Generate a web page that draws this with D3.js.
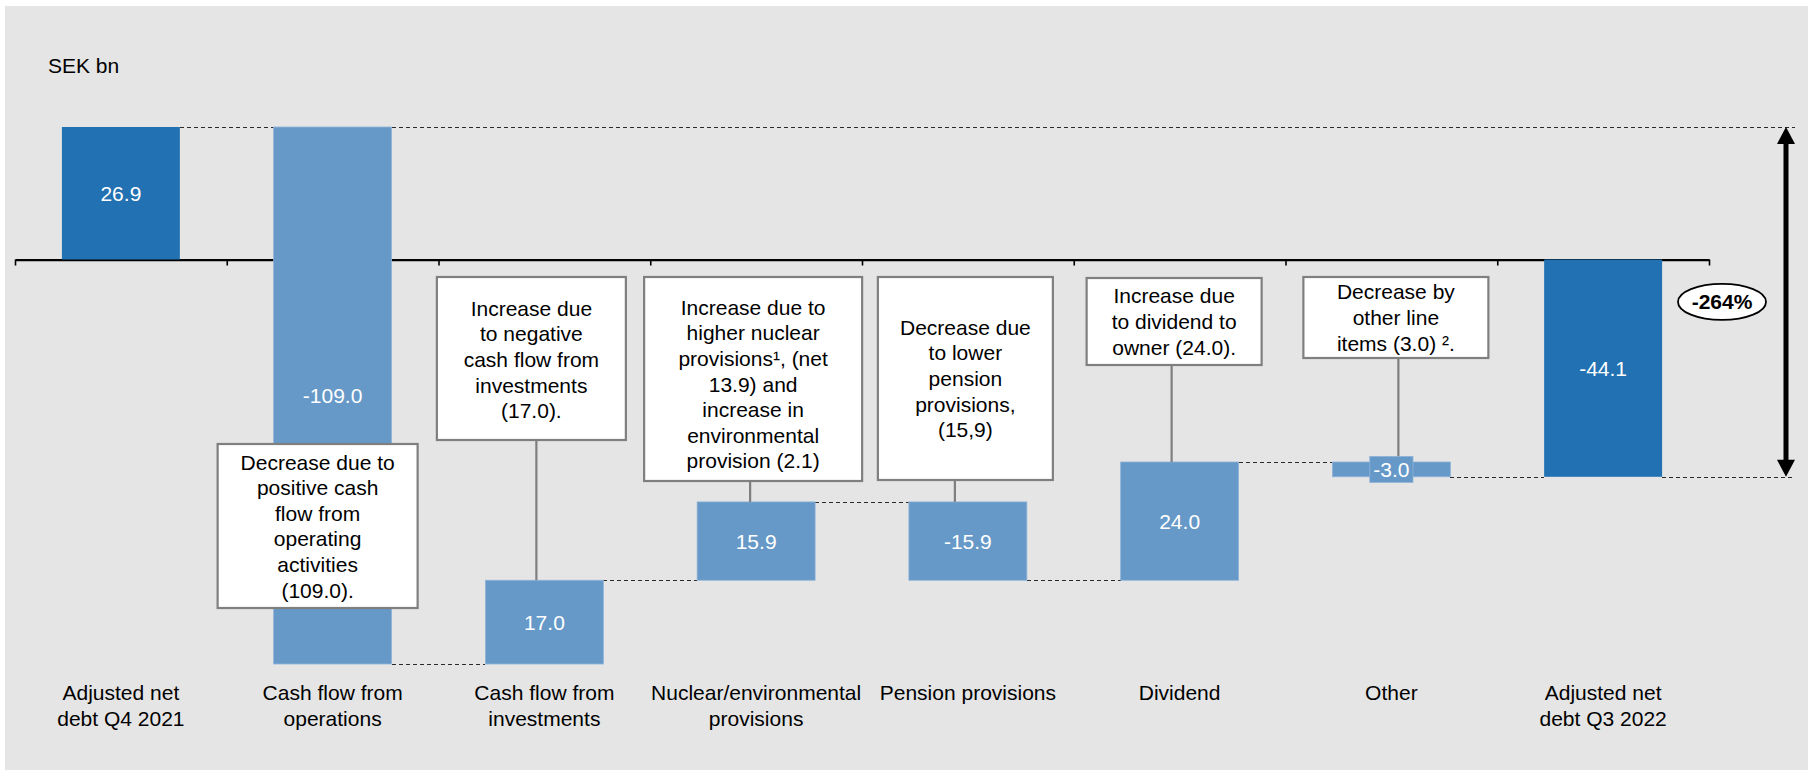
<!DOCTYPE html>
<html>
<head>
<meta charset="utf-8">
<script src="https://cdn.jsdelivr.net/npm/d3@7"></script>
<style>
  html, body { margin: 0; padding: 0; background: #ffffff; }
  svg { display: block; }
</style>
</head>
<body>
<svg id="chart" width="1808" height="770"></svg>
<script>
// ---------------- DATA ----------------
const unitLabel = "SEK bn";
const categories = [
  "Adjusted net debt Q4 2021",
  "Cash flow from operations",
  "Cash flow from investments",
  "Nuclear/environmental provisions",
  "Pension provisions",
  "Dividend",
  "Other",
  "Adjusted net debt Q3 2022"
];
const categoryLines = [
  ["Adjusted net", "debt Q4 2021"],
  ["Cash flow from", "operations"],
  ["Cash flow from", "investments"],
  ["Nuclear/environmental", "provisions"],
  ["Pension provisions"],
  ["Dividend"],
  ["Other"],
  ["Adjusted net", "debt Q3 2022"]
];
const values = [26.9, -109.0, 17.0, 15.9, -15.9, 24.0, -3.0, -44.1];
const barKinds = ["total", "delta", "delta", "delta", "delta", "delta", "delta", "total"];
const valueLabels = ["26.9", "-109.0", "17.0", "15.9", "-15.9", "24.0", "-3.0", "-44.1"];
const noteLines = [
  null,
  ["Decrease due to", "positive cash", "flow from", "operating", "activities", "(109.0)."],
  ["Increase due", "to negative", "cash flow from", "investments", "(17.0)."],
  ["Increase due to", "higher nuclear", "provisions\u00B9, (net", "13.9) and", "increase in", "environmental", "provision (2.1)"],
  ["Decrease due", "to lower", "pension", "provisions,", "(15,9)"],
  ["Increase due", "to dividend to", "owner (24.0)."],
  ["Decrease by", "other line", "items (3.0) \u00B2."],
  null
];
const changeLabel = "-264%";

// ---------------- LAYOUT / STYLE ----------------
const W = 1808, H = 770;
const FONT = "'Liberation Sans', Arial, Helvetica, sans-serif";
const DARK = "#2271B3", LIGHT = "#6699C8", BG = "#E5E5E5";
const BOX_STROKE = "#7F7F7F";
const FS = 21, LH = 25.6;

// callout geometry (offset of box centre from band centre, width, top, bottom, connector offset)
const noteLayout = [
  null,
  { dx: -15, w: 200, top: 444, bottom: 608, cx: null, tdy: 0 },
  { dx: -13, w: 189, top: 277, bottom: 440, cx: -8, tdy: 1 },
  { dx: -3, w: 218, top: 277, bottom: 481, cx: -6, tdy: 5 },
  { dx: -2.5, w: 175, top: 277, bottom: 480, cx: -13, tdy: 0 },
  { dx: -5.5, w: 175, top: 278, bottom: 365, cx: -8, tdy: 0 },
  { dx: 4.5, w: 185, top: 277, bottom: 358, cx: 7, tdy: 0 },
  null
];

const svg = d3.select("#chart");
svg.append("rect").attr("x", 5).attr("y", 6).attr("width", W - 5).attr("height", H - 6).attr("fill", BG);

// waterfall steps
let level = 0;
const steps = values.map((v, i) => {
  if (barKinds[i] === "total") { level = v; return { start: 0, end: v }; }
  const s = level; level = +(level + v).toFixed(4); return { start: s, end: level };
});
const allLevels = steps.flatMap(d => [d.start, d.end]);

const x = d3.scaleBand().domain(categories).range([15, 1709]).paddingInner(0.443).paddingOuter(0.2215);
const y = d3.scaleLinear().domain([d3.min(allLevels), d3.max(allLevels)]).range([664, 127]);
const bw = x.bandwidth();
const cx = c => x(c) + bw / 2;
const crisp = v => Math.round(v) + 0.5;

const arrowX = 1786, guideEnd = 1795;

// ---------- dashed guides ----------
const dash = svg.append("g").attr("stroke", "#2a2a2a").attr("stroke-width", 1).attr("stroke-dasharray", "4,3")
  .attr("fill", "none").attr("shape-rendering", "crispEdges");
for (let i = 0; i < categories.length - 1; i++) {
  const lv = steps[i].end;
  dash.append("line")
    .attr("x1", x(categories[i]) + bw).attr("x2", x(categories[i + 1]))
    .attr("y1", crisp(y(lv))).attr("y2", crisp(y(lv)));
}
// long guides to the arrow
dash.append("line").attr("x1", x(categories[1]) + bw).attr("x2", guideEnd)
  .attr("y1", crisp(y(steps[0].end))).attr("y2", crisp(y(steps[0].end)));
const last = categories.length - 1;
dash.append("line").attr("x1", x(categories[last]) + bw).attr("x2", guideEnd)
  .attr("y1", crisp(y(steps[last].end))).attr("y2", crisp(y(steps[last].end)));

// ---------- axis ----------
const xi = d3.scaleLinear().domain([0, categories.length]).range(x.range());
const axis = svg.append("g").attr("transform", `translate(0,${y(0)})`)
  .call(d3.axisBottom(xi).tickValues(d3.range(0, categories.length + 1)).tickSize(6).tickSizeOuter(0).tickFormat(""));
axis.select(".domain").attr("stroke", "#000").attr("stroke-width", 2.2);
axis.selectAll(".tick line").attr("stroke", "#000").attr("stroke-width", 1.6);

// ---------- bars ----------
svg.append("g").selectAll("rect").data(categories).join("rect")
  .attr("x", c => x(c))
  .attr("y", (c, i) => y(Math.max(steps[i].start, steps[i].end)))
  .attr("width", bw)
  .attr("height", (c, i) => Math.abs(y(steps[i].start) - y(steps[i].end)))
  .attr("fill", (c, i) => barKinds[i] === "total" ? DARK : LIGHT)
  .attr("stroke", (c, i) => barKinds[i] === "total" ? "none" : "#8FB3D8")
  .attr("stroke-width", 0.8);

// ---------- callout connectors & boxes ----------
const notes = svg.append("g");
categories.forEach((c, i) => {
  const lines = noteLines[i], L = noteLayout[i];
  if (!lines) return;
  const bc = cx(c) + L.dx;
  if (L.cx !== null) {
    notes.append("line")
      .attr("x1", cx(c) + L.cx).attr("x2", cx(c) + L.cx)
      .attr("y1", L.bottom).attr("y2", y(Math.max(steps[i].start, steps[i].end)))
      .attr("stroke", BOX_STROKE).attr("stroke-width", 2.2);
  }
  notes.append("rect")
    .attr("x", bc - L.w / 2).attr("y", L.top).attr("width", L.w).attr("height", L.bottom - L.top)
    .attr("fill", "#fff").attr("stroke", BOX_STROKE).attr("stroke-width", 2.2);
  const mid = (L.top + L.bottom) / 2 + L.tdy;
  const t = notes.append("text").attr("text-anchor", "middle").attr("font-family", FONT)
    .attr("font-size", FS).attr("fill", "#000");
  lines.forEach((ln, k) => {
    t.append("tspan").attr("x", bc).attr("y", mid + (k - (lines.length - 1) / 2) * LH + 7.5).text(ln);
  });
});

// ---------- value labels ----------
const vl = svg.append("g").attr("font-family", FONT).attr("font-size", FS).attr("text-anchor", "middle");
categories.forEach((c, i) => {
  const y1 = y(steps[i].start), y2 = y(steps[i].end);
  const mid = (y1 + y2) / 2;
  const h = Math.abs(y1 - y2);
  if (h < 30) {
    const tw = valueLabels[i].length * 10.8;
    vl.append("rect").attr("x", cx(c) - tw / 2).attr("y", mid - 13).attr("width", tw).attr("height", 26)
      .attr("fill", barKinds[i] === "total" ? DARK : LIGHT).attr("stroke", "#8FB3D8").attr("stroke-width", 0.8);
  }
  vl.append("text").attr("x", cx(c)).attr("y", mid + 7.5).attr("fill", "#fff").text(valueLabels[i]);
});

// ---------- category labels ----------
const cl = svg.append("g").attr("font-family", FONT).attr("font-size", FS).attr("text-anchor", "middle").attr("fill", "#000");
categories.forEach((c, i) => {
  const t = cl.append("text");
  categoryLines[i].forEach((ln, k) => {
    t.append("tspan").attr("x", cx(c)).attr("y", 700 + k * 26).text(ln);
  });
});

// ---------- unit label ----------
svg.append("text").attr("x", 48).attr("y", 73).attr("font-family", FONT).attr("font-size", FS)
  .attr("fill", "#000").text(unitLabel);

// ---------- change arrow ----------
const yTop = y(steps[0].end), yBot = y(steps[last].end);
const ah = 17, aw = 9;
svg.append("line").attr("x1", arrowX).attr("x2", arrowX).attr("y1", yTop + ah - 1).attr("y2", yBot - ah + 1)
  .attr("stroke", "#000").attr("stroke-width", 5);
svg.append("path").attr("fill", "#000")
  .attr("d", `M${arrowX},${yTop}L${arrowX - aw},${yTop + ah}L${arrowX + aw},${yTop + ah}Z`);
svg.append("path").attr("fill", "#000")
  .attr("d", `M${arrowX},${yBot}L${arrowX - aw},${yBot - ah}L${arrowX + aw},${yBot - ah}Z`);

const ovY = (yTop + yBot) / 2, ovX = arrowX - 64;
svg.append("ellipse").attr("cx", ovX).attr("cy", ovY).attr("rx", 44).attr("ry", 18)
  .attr("fill", "#fff").attr("stroke", "#000").attr("stroke-width", 1.8);
svg.append("text").attr("x", ovX).attr("y", ovY + 7.5).attr("text-anchor", "middle")
  .attr("font-family", FONT).attr("font-size", FS).attr("font-weight", "bold").attr("fill", "#000")
  .text(changeLabel);
</script>
</body>
</html>
